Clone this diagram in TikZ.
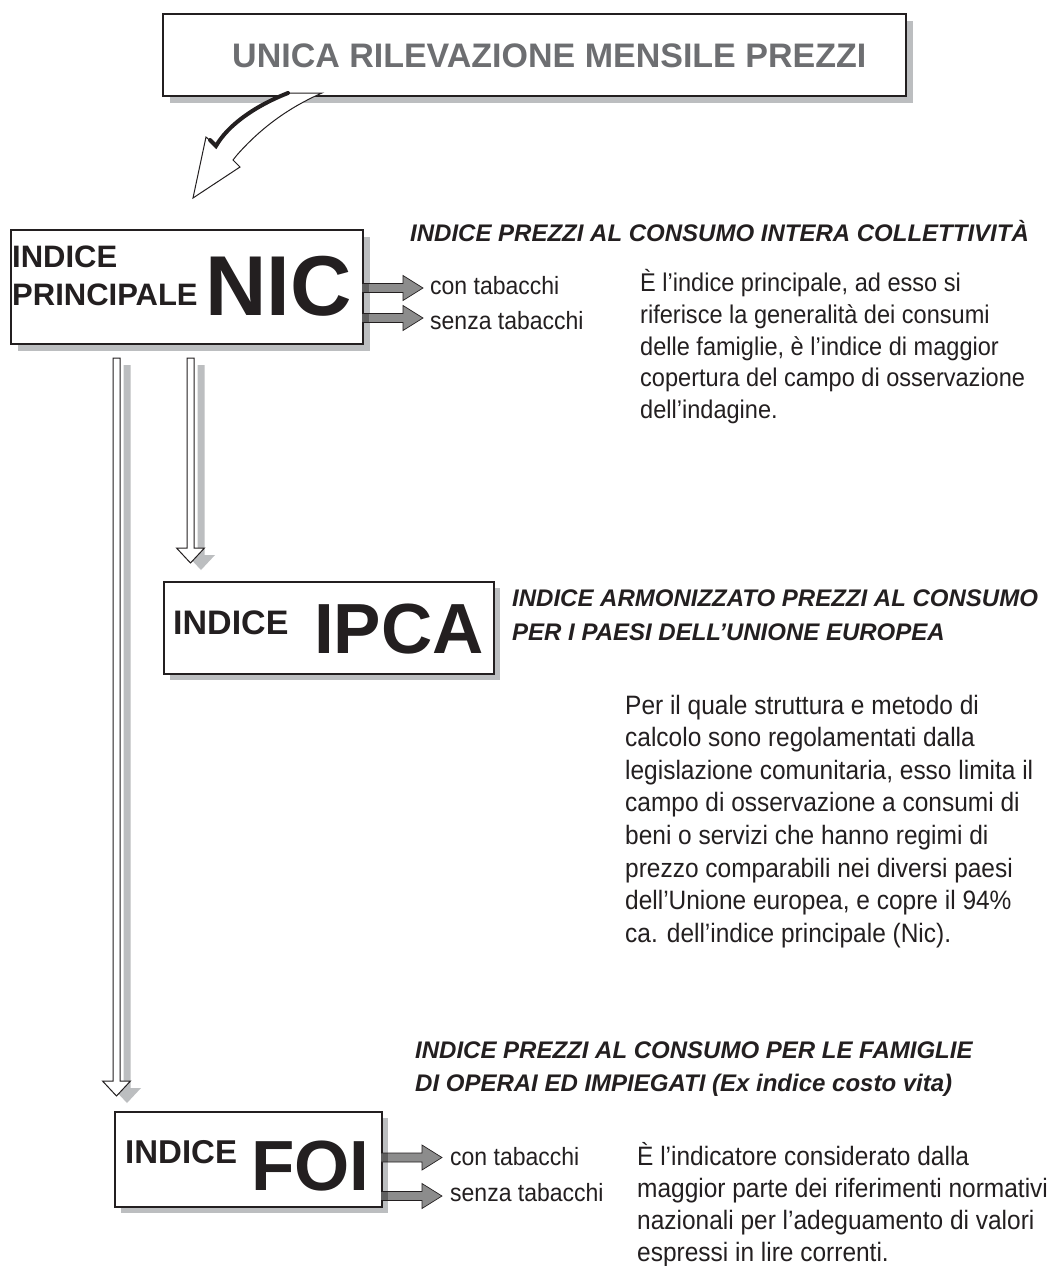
\documentclass[tikz,border=0pt]{standalone}
\usepackage{fontspec}
\setmainfont{Liberation Sans}
\newfontfamily\bodyfont[FakeStretch=0.92]{Liberation Sans}
\usetikzlibrary{calc}
\definecolor{shd}{HTML}{BCBEC0}
\definecolor{ttl}{HTML}{6D6E71}
\definecolor{blk}{HTML}{231F20}
\definecolor{barr}{HTML}{8C8C8C}
\definecolor{barrd}{HTML}{5F5F5F}
\begin{document}
\begin{tikzpicture}[x=1pt,y=-1pt,
  boxst/.style={draw=blk, line width=1.8pt, fill=white, inner sep=0pt, anchor=north west},
  shadowst/.style={fill=shd, draw=none, inner sep=0pt, anchor=north west},
  txt/.style={anchor=base west, inner sep=0pt, text=blk},
  body/.style={txt, font=\bodyfont\fontsize{25}{32}\selectfont},
  bodyn/.style={txt, font=\bodyfont\fontsize{25.6}{32}\selectfont},
  bodyb/.style={txt, font=\bodyfont\fontsize{26.6}{32}\selectfont},
  subt/.style={txt, font=\fontsize{24}{30}\selectfont\bfseries\itshape},
  small/.style={txt, font=\fontsize{33}{36}\selectfont\bfseries},
  big/.style={txt, font=\fontsize{71}{75}\selectfont\bfseries},
  hollow/.style={fill=white, draw=blk, line width=1pt},
  barrow/.pic={
    \fill[barr] (0,-4.5) -- (41,-4.5) -- (41,-12.5) -- (61,0) -- (41,12.5) -- (41,4.5) -- (0,4.5) -- cycle;
    \fill[barrd] (0,-4.5) rectangle (7,4.5);
    \draw[blk, line width=0.7pt] (0,-4.5) -- (41,-4.5) -- (41,-12.5) -- (61,0) -- (41,12.5) -- (41,4.5) -- (0,4.5);
  }]
\useasboundingbox (0,0) rectangle (1055,1266);
\fill[white] (0,0) rectangle (1055,1266);

% ---------- top box ----------
\node[shadowst, minimum width=743, minimum height=82] (topsh) at (170,21) {};
\node[boxst, minimum width=743, minimum height=82] (top) at (162,13) {};
\node[txt, text=ttl, font=\fontsize{34}{38}\selectfont\bfseries] (toptxt) at (232,67) {UNICA RILEVAZIONE MENSILE PREZZI};

% ---------- curved arrow ----------
\coordinate (ca1) at (288,93);
\coordinate (ca2) at (322,93);
\filldraw[hollow] (ca1) .. controls (255,106) and (228,125) .. (216,146) -- (206,137) -- (193,198) -- (240,167) -- (233,160) -- (237,155) .. controls (266,122) and (297,104) .. (ca2) -- cycle;
\draw[blk, line width=4pt, line cap=round] (ca1) .. controls (255,106) and (228,125) .. (216,146) -- (210,140);

% ---------- NIC box ----------
\node[shadowst, minimum width=352, minimum height=114] (nicsh) at (18,237) {};
\node[boxst, minimum width=352, minimum height=114] (nic) at (10,229) {};
\node[small, font=\fontsize{31}{36}\selectfont\bfseries] (nic1) at (12,267) {INDICE};
\node[small, font=\fontsize{31}{36}\selectfont\bfseries] (nic2) at (12,305) {PRINCIPALE};
\node[big, anchor=base east, font=\fontsize{85}{88}\selectfont\bfseries] (nic3) at (352,315) {NIC};

\pic at (362,288) {barrow};
\pic at (362,318) {barrow};
\node[body] (nicc) at (430,294) {con tabacchi};
\node[body] (nics) at (430,329) {senza tabacchi};

\node[subt] (nict) at (410,241) {INDICE PREZZI AL CONSUMO INTERA COLLETTIVITÀ};
\node[bodyn] (nicp1) at (640,291.5) {È l’indice principale, ad esso si};
\node[bodyn] (nicp2) at (640,323.3) {riferisce la generalità dei consumi};
\node[bodyn] (nicp3) at (640,355.1) {delle famiglie, è l’indice di maggior};
\node[bodyn] (nicp4) at (640,386.9) {copertura del campo di osservazione};
\node[bodyn] (nicp5) at (640,418.7) {dell’indagine.};

% ---------- vertical hollow arrows ----------
\fill[shd] (123.5,365) -- (130.5,365) -- (130.5,1088) -- (141,1088) -- (127,1103) -- (113,1088) -- (123.5,1088) -- cycle;
\fill[shd] (197.5,365) -- (204.5,365) -- (204.5,555) -- (215,555) -- (201,570) -- (187,555) -- (197.5,555) -- cycle;
\filldraw[hollow] (113,358) -- (120,358) -- (120,1081) -- (130.5,1081) -- (116.5,1096) -- (102.5,1081) -- (113,1081) -- cycle;
\filldraw[hollow] (187,358) -- (194,358) -- (194,548) -- (204.5,548) -- (190.5,563) -- (176.5,548) -- (187,548) -- cycle;

% ---------- IPCA box ----------
\node[shadowst, minimum width=330, minimum height=92] (ipcash) at (170,588) {};
\node[boxst, minimum width=330, minimum height=92] (ipca) at (163,581) {};
\node[small, font=\fontsize{34}{36}\selectfont\bfseries] (ipca1) at (173,634) {INDICE};
\node[big] (ipca2) at (314,653) {IPCA};

\node[subt] (ipcat1) at (512,606) {INDICE ARMONIZZATO PREZZI AL CONSUMO};
\node[subt] (ipcat2) at (512,640) {PER I PAESI DELL’UNIONE EUROPEA};
\node[bodyb] (ip1) at (625,714) {Per il quale struttura e metodo di};
\node[bodyb] (ip2) at (625,746.6) {calcolo sono regolamentati dalla};
\node[bodyb] (ip3) at (625,779.2) {legislazione comunitaria, esso limita il};
\node[bodyb] (ip4) at (625,811.8) {campo di osservazione a consumi di};
\node[bodyb] (ip5) at (625,844.4) {beni o servizi che hanno regimi di};
\node[bodyb] (ip6) at (625,877) {prezzo comparabili nei diversi paesi};
\node[bodyb] (ip7) at (625,909.6) {dell’Unione europea, e copre il 94\%};
\node[bodyb] (ip8) at (625,942.2) {ca. dell’indice principale (Nic).};

% ---------- FOI box ----------
\node[subt] (foit1) at (415,1058) {INDICE PREZZI AL CONSUMO PER LE FAMIGLIE};
\node[subt] (foit2) at (415,1091) {DI OPERAI ED IMPIEGATI (Ex indice costo vita)};

\node[shadowst, minimum width=267, minimum height=95] (foish) at (121,1118) {};
\node[boxst, minimum width=267, minimum height=95] (foi) at (114,1111) {};
\node[small] (foi1) at (125,1163) {INDICE};
\node[big] (foi2) at (251,1190) {FOI};

\pic at (381,1157.5) {barrow};
\pic at (381,1196) {barrow};
\node[body] (foic) at (450,1165) {con tabacchi};
\node[body] (fois) at (450,1201) {senza tabacchi};

\node[bodyb] (fp1) at (637,1165) {È l’indicatore considerato dalla};
\node[bodyb] (fp2) at (637,1197) {maggior parte dei riferimenti normativi};
\node[bodyb] (fp3) at (637,1229) {nazionali per l’adeguamento di valori};
\node[bodyb] (fp4) at (637,1261) {espressi in lire correnti.};
\end{tikzpicture}
\end{document}
